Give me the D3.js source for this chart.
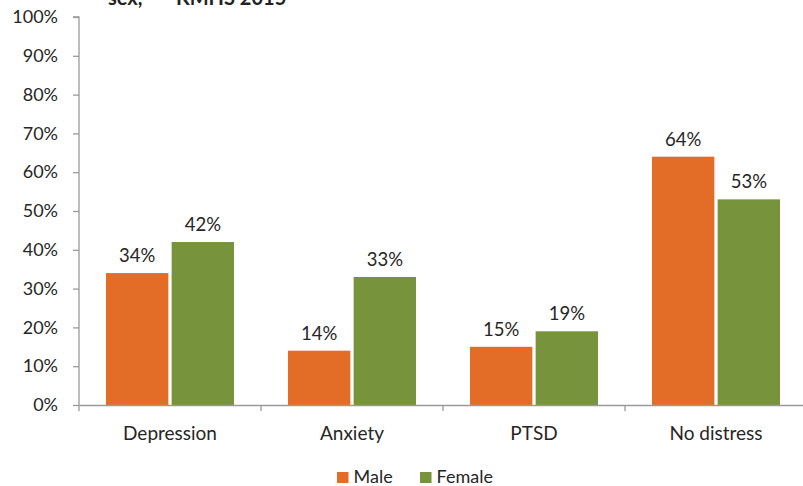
<!DOCTYPE html>
<html>
<head>
<meta charset="utf-8">
<script src="https://cdn.jsdelivr.net/npm/d3@7"></script>
<style>
  html, body { margin: 0; padding: 0; background: #fff; }
  svg { display: block; font-family: Lato, "Open Sans", sans-serif; }
</style>
</head>
<body>
<svg id="chart" width="803" height="486"></svg>
<script>
// Psychological distress by sex, KMHS 2015
const categories = ["Depression", "Anxiety", "PTSD", "No distress"];
const seriesNames = ["Male", "Female"];
const maleValues = [34, 14, 15, 64];
const femaleValues = [42, 33, 19, 53];
const yTicks = [0, 10, 20, 30, 40, 50, 60, 70, 80, 90, 100];
const colors = ["#E36C26", "#77933C"];

(function () {
const svg = d3.select("#chart");
const plotLeft = 79, plotRight = 807, plotTop = 17, plotBottom = 405;
const textColor = "#262626", axisColor = "#9a9a9a";

const x = d3.scaleBand().domain(categories).range([plotLeft, plotRight]).paddingInner(0).paddingOuter(0);
const inner = d3.scaleBand().domain(seriesNames).range([27, x.bandwidth() - 27]).paddingInner(0.05);
const y = d3.scaleLinear().domain([0, 100]).range([plotBottom, plotTop]);

const rows = categories.map((c, i) => ({ cat: c, vals: [maleValues[i], femaleValues[i]] }));

// Title, running off the top edge
const title = svg.append("text")
  .attr("x", 108).attr("y", 5)
  .attr("font-weight", "bold").attr("font-size", 20).attr("fill", "#222");
title.append("tspan").text("sex,");
title.append("tspan").attr("x", 158).attr("font-size", 12).attr("dy", -4).text("\u00B9");
title.append("tspan").attr("x", 176).attr("dy", 4).text("KMHS 2015");

// Y axis
const yAxis = svg.append("g")
  .attr("transform", `translate(${plotLeft},0)`)
  .call(d3.axisLeft(y).tickValues(yTicks).tickSize(6).tickPadding(15).tickFormat(d => d + "%"));
yAxis.select(".domain").attr("stroke", axisColor).attr("stroke-width", 1.3).attr("d", `M-6,${y(100)}H0V${y(0)}`);
yAxis.selectAll(".tick line").attr("stroke", axisColor).attr("stroke-width", 1.3);
yAxis.selectAll(".tick text").attr("font-size", 18).attr("fill", textColor).attr("font-family", "Lato, sans-serif");

// Bars
const groups = svg.append("g").selectAll("g").data(rows).join("g")
  .attr("transform", d => `translate(${x(d.cat)},0)`);
groups.selectAll("rect").data(d => d.vals.map((v, j) => ({ v, s: seriesNames[j], j })))
  .join("rect")
  .attr("x", d => inner(d.s))
  .attr("width", inner.bandwidth())
  .attr("y", d => y(d.v))
  .attr("height", d => y(0) - y(d.v))
  .attr("fill", d => colors[d.j]);

// Value labels
groups.selectAll("text.val").data(d => d.vals.map((v, j) => ({ v, s: seriesNames[j] })))
  .join("text").attr("class", "val")
  .attr("x", d => inner(d.s) + inner.bandwidth() / 2)
  .attr("y", d => y(d.v) - 11)
  .attr("text-anchor", "middle")
  .attr("font-size", 18.5).attr("fill", textColor)
  .text(d => d.v + "%");

// X axis
const xAxis = svg.append("g")
  .attr("transform", `translate(0,${plotBottom})`)
  .call(d3.axisBottom(x).tickSize(0).tickPadding(0));
xAxis.select(".domain").attr("stroke", axisColor).attr("stroke-width", 1.3);
xAxis.selectAll(".tick text").attr("font-size", 19).attr("fill", textColor)
  .attr("font-family", "Lato, sans-serif").attr("dy", null).attr("y", 35);
svg.append("g").selectAll("line").data(d3.range(categories.length + 1)).join("line")
  .attr("x1", i => plotLeft + i * x.bandwidth()).attr("x2", i => plotLeft + i * x.bandwidth())
  .attr("y1", plotBottom).attr("y2", plotBottom + 6)
  .attr("stroke", axisColor).attr("stroke-width", 1.3);

// Legend
const legendPos = [337, 420];
const legend = svg.append("g").selectAll("g").data(seriesNames).join("g")
  .attr("transform", (d, i) => `translate(${legendPos[i]},472)`);
legend.append("rect").attr("width", 11.5).attr("height", 11).attr("fill", (d, i) => colors[i]);
legend.append("text").attr("x", 16.5).attr("y", 11).attr("font-size", 18).attr("fill", textColor).text(d => d);
})();
</script>
</body>
</html>
